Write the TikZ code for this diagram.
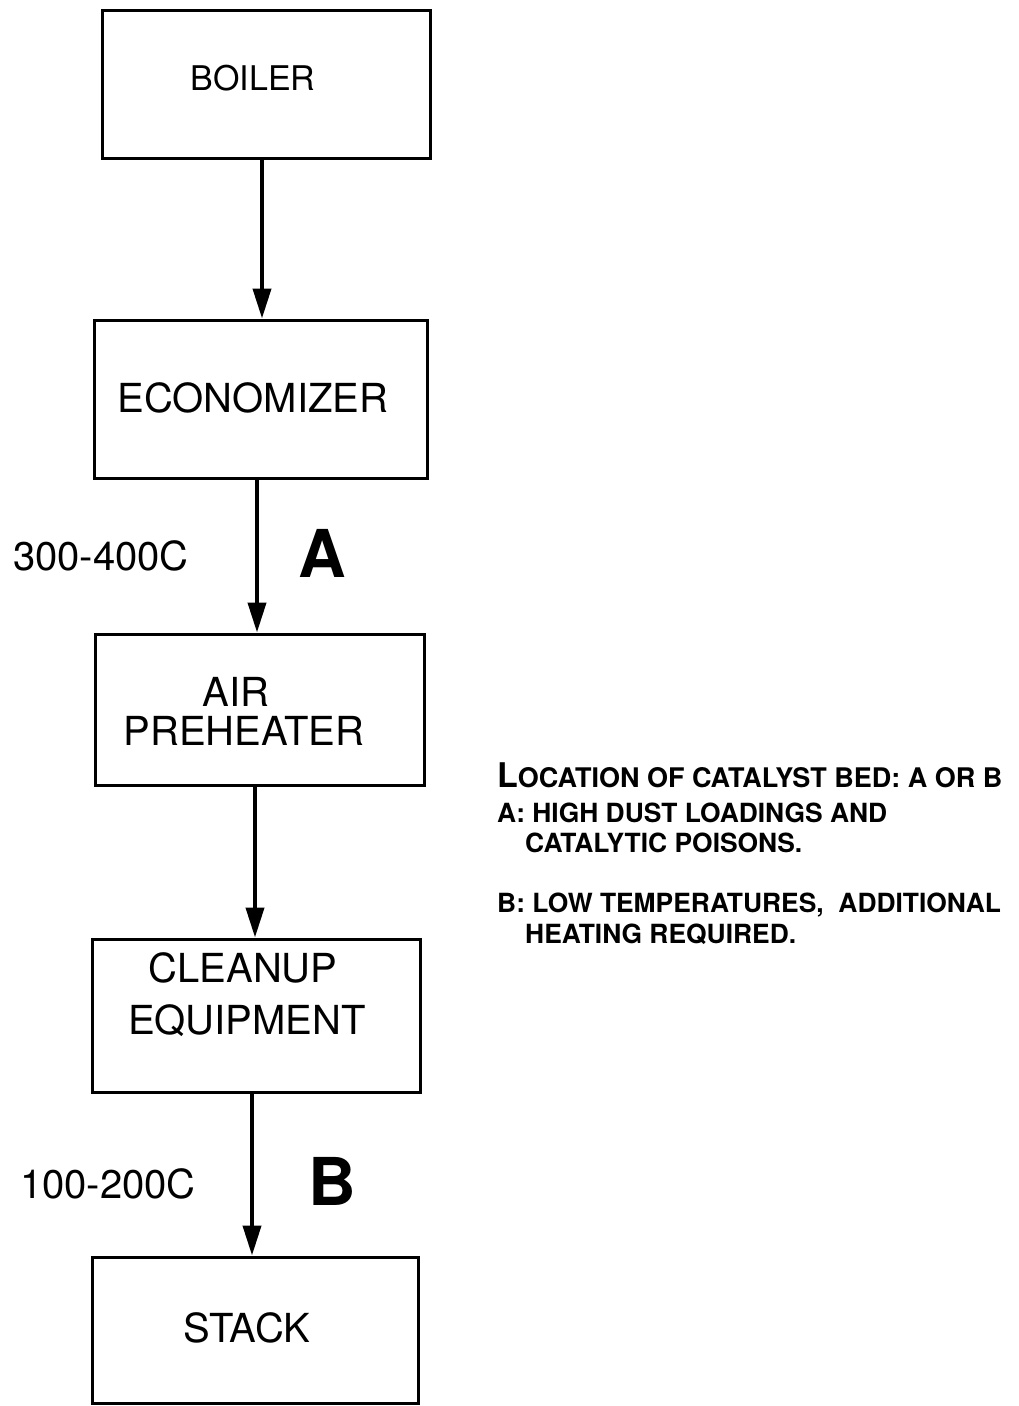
\documentclass[tikz,border=0pt]{standalone}
\usepackage{fontspec}
\setmainfont{TeX Gyre Heros}
\usetikzlibrary{arrows.meta}
\begin{document}
\begin{tikzpicture}[x=1pt,y=-1pt,
  box/.style={draw, line width=3pt, rectangle, inner sep=0pt},
  lbl/.style={inner sep=0pt, anchor=base, font=\fontsize{40}{46}\selectfont},
  flow/.style={line width=4pt, -{Triangle[width=18pt,length=30pt]}},
  big/.style={inner sep=0pt, anchor=base, font=\fontsize{66}{70}\selectfont\bfseries},
  note/.style={inner sep=0pt, anchor=base west, font=\fontsize{26.4}{30}\selectfont\bfseries}]
\useasboundingbox (0,0) rectangle (1018,1406);
% boxes
\node[box, minimum width=328pt, minimum height=148pt] (boiler) at (266,84) {};
\node[box, minimum width=333pt, minimum height=158pt] (econ) at (260.5,399) {};
\node[box, minimum width=329pt, minimum height=151pt] (airph) at (259.5,709.5) {};
\node[box, minimum width=328pt, minimum height=153pt] (cleanup) at (256,1015.5) {};
\node[box, minimum width=326pt, minimum height=146pt] (stack) at (255,1330) {};
% box texts
\node[lbl, font=\fontsize{34}{40}\selectfont] (tboiler) at (253,90) {BOILER};
\node[lbl] (tecon) at (253,412) {ECONOMIZER};
\node[lbl] (tair1) at (236,706) {AIR};
\node[lbl] (tair2) at (244,745) {PREHEATER};
\node[lbl] (tclean1) at (243,982) {CLEANUP};
\node[lbl] (tclean2) at (247,1034) {EQUIPMENT};
\node[lbl] (tstack) at (247,1342) {STACK};
% connectors
\coordinate (x1) at (262,0);
\coordinate (x2) at (257,0);
\coordinate (x3) at (255,0);
\coordinate (x4) at (252,0);
\draw[flow] (boiler.south -| x1) -- (econ.north -| x1);
\draw[flow] (econ.south -| x2) -- (airph.north -| x2);
\draw[flow] (airph.south -| x3) -- (cleanup.north -| x3);
\draw[flow] (cleanup.south -| x4) -- (stack.north -| x4);
% side labels
\node[lbl] (tA) at (101,570) {300-400C};
\node[big] (A) at (322,577) {A};
\node[lbl] (tB) at (108,1198) {100-200C};
\node[big] (B) at (332,1205) {B};
% notes
\node[note, font=\fontsize{27}{30}\selectfont\bfseries] (title) at (497,787) {{\fontsize{34}{36}\selectfont L}OCATION OF CATALYST BED: A OR B};
\node[note] (na1) at (497,822) {A: HIGH DUST LOADINGS AND};
\node[note] (na2) at (525,852) {CATALYTIC POISONS.};
\node[note] (nb1) at (497,912) {B: LOW TEMPERATURES,\ \ ADDITIONAL};
\node[note] (nb2) at (525,943) {HEATING REQUIRED.};
\end{tikzpicture}
\end{document}
